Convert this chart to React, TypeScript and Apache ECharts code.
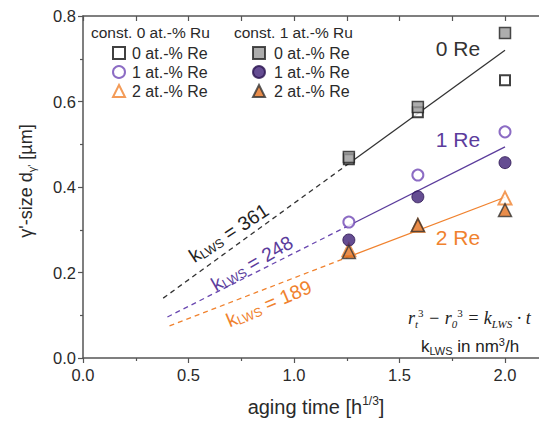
import React, { useEffect, useRef } from 'react';
import * as echarts from 'echarts';

// aging time in h^(1/3)
const xTime = [1.26, 1.587, 2.0];
// const. 0 at.-% Ru
const ru0Re0 = [0.465, 0.575, 0.65];
const ru0Re1 = [0.318, 0.428, 0.529];
const ru0Re2 = [0.253, 0.31, 0.374];
// const. 1 at.-% Ru
const ru1Re0 = [0.47, 0.587, 0.76];
const ru1Re1 = [0.276, 0.377, 0.457];
const ru1Re2 = [0.248, 0.311, 0.346];

// fitted lines (solid) and their extrapolation (dashed)
const fitX = [1.26, 2.0];
const fitRe0 = [0.455, 0.72];
const fitRe1 = [0.31, 0.494];
const fitRe2 = [0.237, 0.376];
const dashRe0X = [0.38, 1.26];
const dashRe0 = [0.14, 0.455];
const dashRe1X = [0.4, 1.26];
const dashRe1 = [0.096, 0.31];
const dashRe2X = [0.41, 1.26];
const dashRe2 = [0.075, 0.237];

const kValues = ['361', '248', '189'];
const reLabels = ['0 Re', '1 Re', '2 Re'];
const legendNames0 = ['0 at.-% Re', '1 at.-% Re', '2 at.-% Re'];
const legendNames1 = ['0 at.-% Re ', '1 at.-% Re ', '2 at.-% Re '];
const headers = ['const. 0 at.-% Ru', 'const. 1 at.-% Ru'];

const FONT = '"Liberation Sans", Arial, Helvetica, sans-serif';
const SERIF = '"Liberation Serif", "Times New Roman", serif';
const C_BLACK = '#333333';
const C_PURPLE = '#5b3c9c';
const C_ORANGE = '#f0822e';
const C_TEXT = '#2a2a2a';

const VIEW_W = 539;
const VIEW_H = 423;
const CHART_W = 611; // plot continues past the right edge of the picture

const pairs = (xs: number[], ys: number[]) => xs.map((x, i) => [x, ys[i]]);

export default function App() {
  const ref = useRef<HTMLDivElement>(null);
  useEffect(() => {
    const el = ref.current!;
    const chart = echarts.init(el, null, { renderer: 'svg' });

    const axisCommon = {
      type: 'value',
      min: 0,
      splitLine: { show: false },
      axisLine: { show: true, lineStyle: { color: '#555', width: 1.5 } },
      axisTick: { show: true, length: 5, lineStyle: { color: '#555', width: 1.2 } },
      minorTick: { show: true, splitNumber: 2, length: 3, lineStyle: { color: '#555', width: 1.2 } },
      minorSplitLine: { show: false },
    };

    const scatter = (name: string, ys: number[], symbol: string, size: number, itemStyle: any) => ({
      name,
      type: 'scatter',
      data: pairs(xTime, ys),
      symbol,
      symbolSize: size,
      itemStyle,
      z: 5,
    });
    const line = (name: string, xs: number[], ys: number[], color: string, dashed: boolean) => ({
      name,
      type: 'line',
      data: pairs(xs, ys),
      showSymbol: false,
      symbol: 'none',
      silent: true,
      lineStyle: { color, width: 1.3, type: dashed ? [5, 4] : 'solid' },
      z: 3,
    });

    chart.setOption({
      animation: false,
      backgroundColor: '#fff',
      grid: { left: 83, top: 16, bottom: 65, right: 0.5 },
      xAxis: [
        {
          ...axisCommon,
          position: 'bottom',
          max: 2.5,
          interval: 0.5,
          axisLabel: {
            fontSize: 16.5,
            color: C_TEXT,
            fontFamily: FONT,
            margin: 8,
            showMaxLabel: false,
            formatter: (v: number) => v.toFixed(1),
          },
        },
        {
          ...axisCommon,
          position: 'top',
          max: 2.5,
          interval: 0.5,
          axisTick: { ...axisCommon.axisTick, inside: true },
          minorTick: { ...axisCommon.minorTick, length: 5 },
          axisLabel: { show: false },
        },
      ],
      yAxis: {
        ...axisCommon,
        max: 0.8,
        interval: 0.2,
        axisLabel: {
          fontSize: 16.5,
          color: C_TEXT,
          fontFamily: FONT,
          margin: 7,
          formatter: (v: number) => v.toFixed(1),
        },
      },
      legend: [
        {
          data: legendNames0,
          orient: 'vertical',
          left: 107,
          top: 40,
          itemWidth: 12,
          itemHeight: 12,
          itemGap: 3,
          selectedMode: false,
          textStyle: { fontSize: 16, color: C_TEXT, fontFamily: FONT, padding: [0, 0, 0, 2], lineHeight: 16 },
        },
        {
          data: legendNames1,
          orient: 'vertical',
          left: 247,
          top: 40,
          itemWidth: 12,
          itemHeight: 12,
          itemGap: 3,
          selectedMode: false,
          textStyle: { fontSize: 16, color: C_TEXT, fontFamily: FONT, padding: [0, 0, 0, 4], lineHeight: 16 },
        },
      ],
      series: [
        line('fit0', fitX, fitRe0, C_BLACK, false),
        line('fit1', fitX, fitRe1, C_PURPLE, false),
        line('fit2', fitX, fitRe2, C_ORANGE, false),
        line('ext0', dashRe0X, dashRe0, C_BLACK, true),
        line('ext1', dashRe1X, dashRe1, '#6a48b0', true),
        line('ext2', dashRe2X, dashRe2, C_ORANGE, true),
        scatter(legendNames0[0], ru0Re0, 'rect', 10, { color: '#fff', borderColor: '#111', borderWidth: 2 }),
        scatter(legendNames0[1], ru0Re1, 'circle', 11, { color: '#fff', borderColor: '#6f47b5', borderWidth: 2 }),
        scatter(legendNames0[2], ru0Re2, 'triangle', 13, { color: '#fff', borderColor: '#f0822e', borderWidth: 2 }),
        scatter(legendNames1[0], ru1Re0, 'rect', 11, { color: '#999', borderColor: '#222', borderWidth: 1.5 }),
        scatter(legendNames1[1], ru1Re1, 'circle', 12, { color: '#3e2077', borderColor: '#2a1450', borderWidth: 1 }),
        scatter(legendNames1[2], ru1Re2, 'triangle', 13, { color: '#e4701e', borderColor: '#333', borderWidth: 1.5 }),
      ],
    });

    const px = (x: number, y: number) => chart.convertToPixel({ gridIndex: 0 }, [x, y]) as number[];

    const reAnchors = [[1.777, 0.723], [1.777, 0.512], [1.777, 0.281]];
    const reColors = [C_BLACK, C_PURPLE, C_ORANGE];
    const kAnchors = [[0.69, 0.293], [0.8, 0.222], [0.88, 0.128]];
    const kAngles = [33, 30, 23];
    const kColors = ['#222', C_PURPLE, C_ORANGE];

    const graphics: any[] = [];
    reLabels.forEach((t, i) => {
      const p = px(reAnchors[i][0], reAnchors[i][1]);
      graphics.push({
        type: 'text',
        x: p[0],
        y: p[1],
        style: { text: t, fill: reColors[i], font: `21px ${FONT}`, align: 'center', verticalAlign: 'middle' },
        z: 10,
      });
    });
    kValues.forEach((k, i) => {
      const p = px(kAnchors[i][0], kAnchors[i][1]);
      graphics.push({
        type: 'text',
        x: p[0],
        y: p[1],
        rotation: (kAngles[i] * Math.PI) / 180,
        style: {
          text: `{m|k}{s|LWS}{m| = ${k}}`,
          fill: kColors[i],
          align: 'center',
          verticalAlign: 'middle',
          rich: {
            m: { fontSize: 19.5, fontFamily: FONT, lineHeight: 22, fill: kColors[i] },
            s: { fontSize: 12.5, fontFamily: FONT, lineHeight: 8, verticalAlign: 'bottom', fill: kColors[i] },
          },
        },
        z: 10,
      });
    });
    // legend headers
    graphics.push({
      type: 'text', left: 91, top: 24,
      style: { text: headers[0], fill: C_TEXT, font: `15.5px ${FONT}` },
    });
    graphics.push({
      type: 'text', left: 234, top: 24,
      style: { text: headers[1], fill: C_TEXT, font: `15.5px ${FONT}` },
    });
    // formula (continues past the right edge, as in the original figure)
    graphics.push({
      type: 'text', x: 408, y: 318,
      style: {
        text: '{i|r}{b|t}{p|3}{i| − r}{b|0}{p|3}{i| = k}{b|LWS}{i| · t}',
        verticalAlign: 'middle',
        rich: {
          i: { fontSize: 18, fontFamily: SERIF, fontStyle: 'italic', lineHeight: 22, fill: '#222' },
          b: { fontSize: 11, fontFamily: SERIF, fontStyle: 'italic', lineHeight: 8, verticalAlign: 'bottom', fill: '#222' },
          p: { fontSize: 11, fontFamily: SERIF, lineHeight: 10, verticalAlign: 'top', fill: '#222' },
        },
      },
    });
    graphics.push({
      type: 'text', x: 421, y: 346,
      style: {
        text: '{m|k}{s|LWS}{m| in nm}{p|3}{m|/h}',
        verticalAlign: 'middle',
        rich: {
          m: { fontSize: 17, fontFamily: FONT, lineHeight: 20, fill: '#222' },
          s: { fontSize: 11, fontFamily: FONT, lineHeight: 8, verticalAlign: 'bottom', fill: '#222' },
          p: { fontSize: 11, fontFamily: FONT, lineHeight: 10, verticalAlign: 'top', fill: '#222' },
        },
      },
    });
    // axis titles
    graphics.push({
      type: 'text', x: 316, y: 407,
      style: {
        text: '{m|aging time [h}{p|1/3}{m|]}',
        align: 'center',
        verticalAlign: 'middle',
        rich: {
          m: { fontSize: 20, fontFamily: FONT, lineHeight: 24, fill: C_TEXT },
          p: { fontSize: 12, fontFamily: FONT, lineHeight: 11, verticalAlign: 'top', fill: C_TEXT },
        },
      },
    });
    graphics.push({
      type: 'text', x: 26, y: 181,
      rotation: Math.PI / 2,
      style: {
        text: "{m|γ'-size d}{s|γ'}{m| [µm]}",
        align: 'center',
        verticalAlign: 'middle',
        rich: {
          m: { fontSize: 18, fontFamily: FONT, lineHeight: 22, fill: C_TEXT },
          s: { fontSize: 11, fontFamily: FONT, lineHeight: 8, verticalAlign: 'bottom', fill: C_TEXT },
        },
      },
    });

    chart.setOption({ graphic: graphics });

    return () => chart.dispose();
  }, []);
  return (
    <div
      style={{ position: 'fixed', left: 0, top: 0, width: VIEW_W, height: VIEW_H, overflow: 'hidden', background: '#fff' }}
    >
      <div ref={ref} style={{ width: CHART_W, height: VIEW_H }} />
    </div>
  );
}
